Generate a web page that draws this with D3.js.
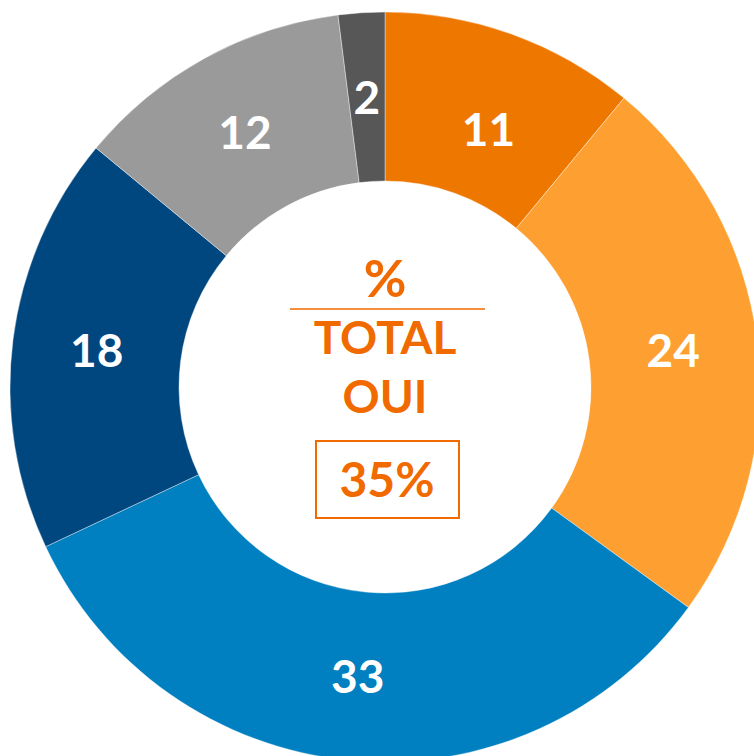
<!DOCTYPE html>
<html>
<head>
<meta charset="utf-8">
<script src="https://cdn.jsdelivr.net/npm/d3@7"></script>
<style>
  html, body { margin: 0; padding: 0; background: #fff; }
  svg { display: block; }
  text { font-family: Lato, "Open Sans", sans-serif; font-weight: 700; }
</style>
</head>
<body>
<svg id="chart" width="754" height="756"></svg>
<script>
// Shares of answers (percent), clockwise from 12 o'clock
const categories = ["A", "B", "C", "D", "E", "F"];
const values = [11, 24, 33, 18, 12, 2];
const colors = ["#EE7700", "#FEA031", "#0080C0", "#00477F", "#9A9A9A", "#575757"];
const centerLines = ["%", "TOTAL", "OUI"];
const totalYes = "35%";
const accent = "#F06A00";

const width = 754, height = 756;
const cx = 385, cy = 387;
const outerR = 375, innerR = 206;

const svg = d3.select("#chart");
const g = svg.append("g").attr("transform", `translate(${cx},${cy})`);

const pie = d3.pie().sort(null).value(d => d.value);
const arc = d3.arc().innerRadius(innerR).outerRadius(outerR);
const labelArc = d3.arc().innerRadius((innerR + outerR) / 2).outerRadius((innerR + outerR) / 2);

const data = categories.map((c, i) => ({ cat: c, value: values[i], color: colors[i] }));
const arcs = pie(data);

g.selectAll("path.slice")
  .data(arcs)
  .join("path")
  .attr("class", "slice")
  .attr("d", arc)
  .attr("fill", d => d.data.color)
  .attr("stroke", "#fff")
  .attr("stroke-width", 0.4);

// the first label sits a little lower so it clears the narrow slice beside it
const labelShift = (d, i) => (i === 0 ? [5, 16] : [0, 0]);

g.selectAll("text.val")
  .data(arcs)
  .join("text")
  .attr("class", "val")
  .attr("transform", (d, i) => {
    const [x, y] = labelArc.centroid(d);
    const [sx, sy] = labelShift(d, i);
    return `translate(${x + sx},${y + sy})`;
  })
  .attr("text-anchor", "middle")
  .attr("dy", "0.36em")
  .attr("fill", "#fff")
  .attr("font-size", 46)
  .text(d => d.data.value);

// Centre legend
const center = g.append("g").attr("fill", accent);
center.append("text")
  .attr("x", 0).attr("y", -90)
  .attr("text-anchor", "middle")
  .attr("font-size", 52)
  .text(centerLines[0]);
center.append("line")
  .attr("x1", -95).attr("x2", 100)
  .attr("y1", -78).attr("y2", -78)
  .attr("stroke", accent).attr("stroke-width", 1.5);
center.append("text")
  .attr("x", 0).attr("y", -33)
  .attr("text-anchor", "middle")
  .attr("font-size", 46)
  .text(centerLines[1]);
center.append("text")
  .attr("x", 0).attr("y", 26)
  .attr("text-anchor", "middle")
  .attr("font-size", 46)
  .text(centerLines[2]);
center.append("rect")
  .attr("x", -69).attr("y", 54)
  .attr("width", 143).attr("height", 77)
  .attr("fill", "none")
  .attr("stroke", accent).attr("stroke-width", 2);
center.append("text")
  .attr("x", 2).attr("y", 110)
  .attr("text-anchor", "middle")
  .attr("font-size", 48)
  .text(totalYes);
</script>
</body>
</html>
